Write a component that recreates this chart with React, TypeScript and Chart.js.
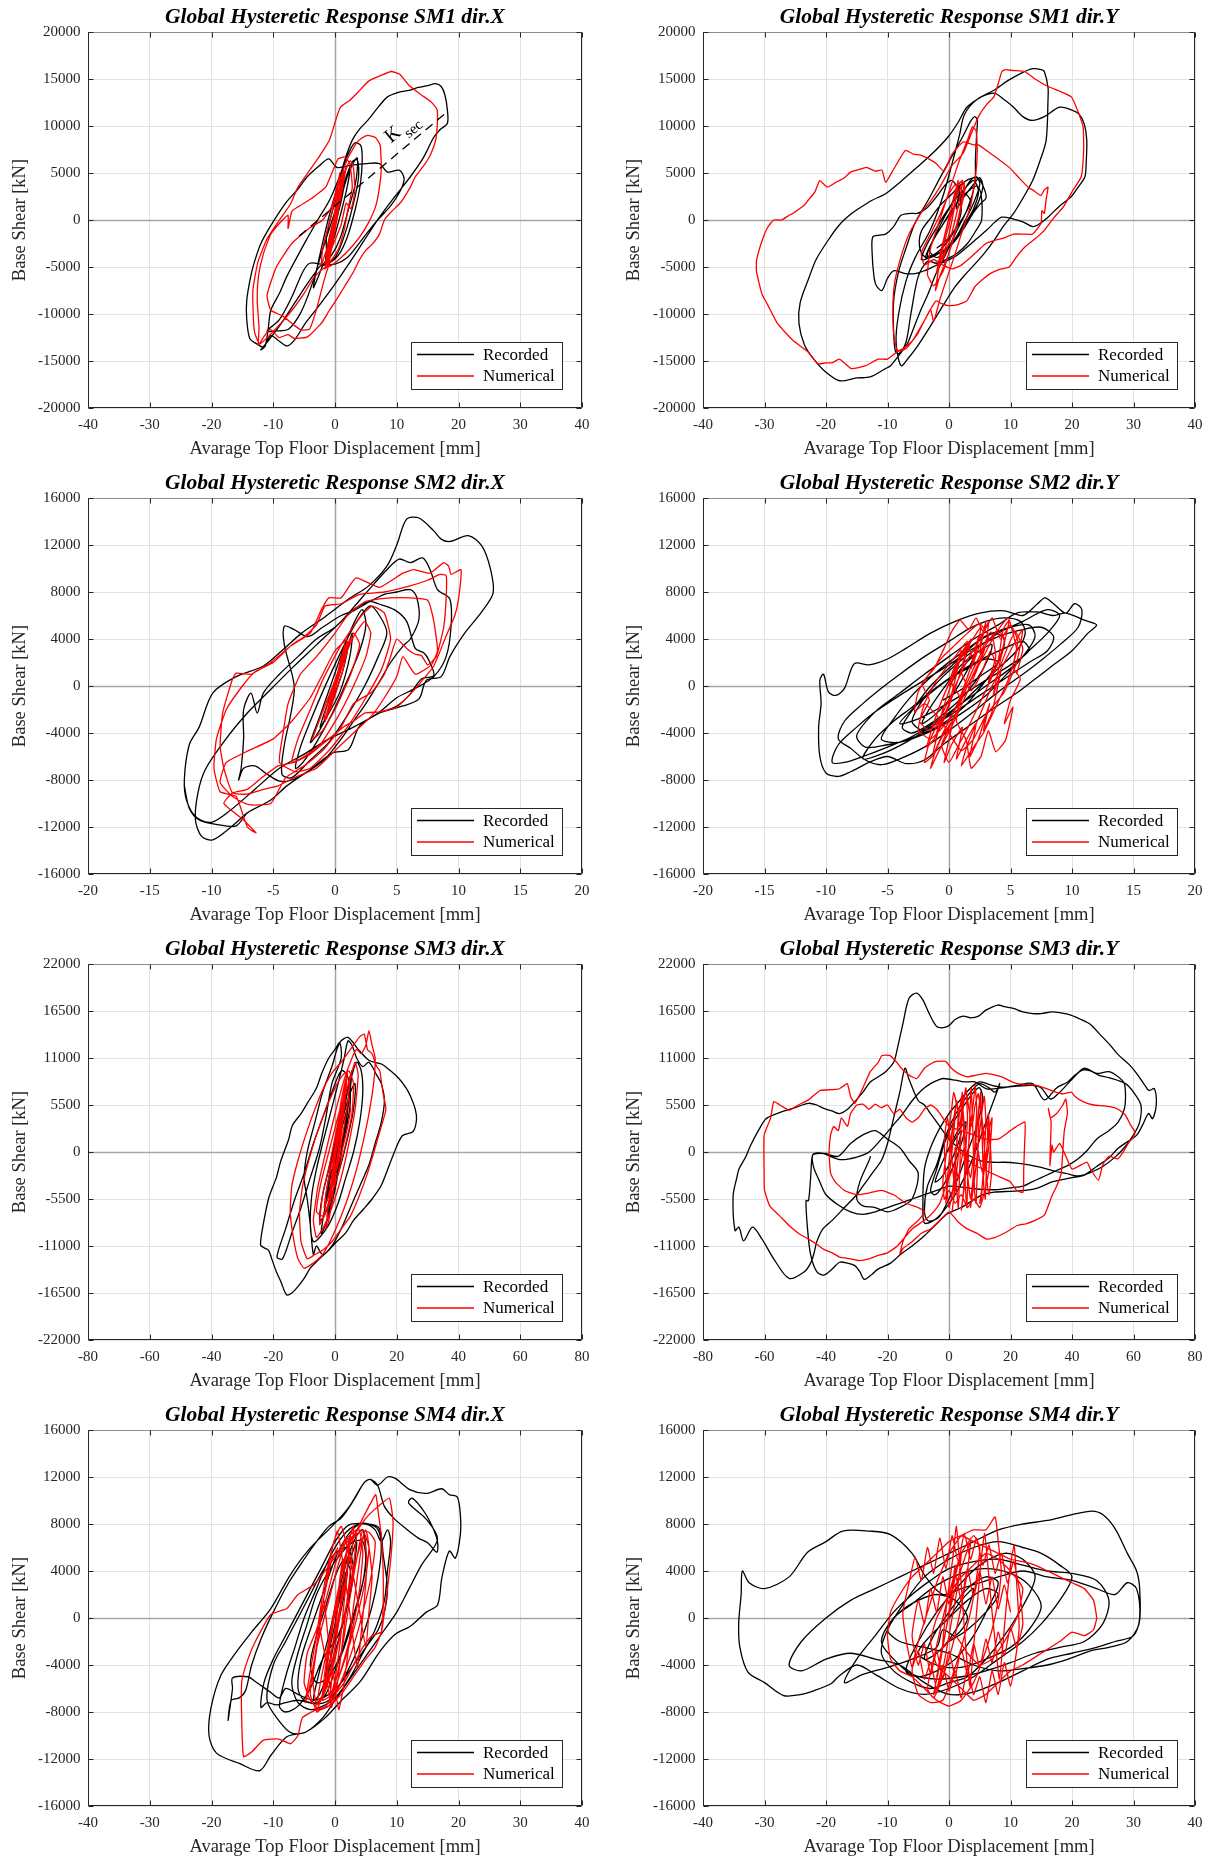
import React, { useEffect, useRef } from "react";
import { Chart, registerables } from "chart.js";
Chart.register(...registerables);

type Pt = [number, number];

// ---------- tick labels ----------
const X_TICKS_40 = [-40, -30, -20, -10, 0, 10, 20, 30, 40];
const X_TICKS_20 = [-20, -15, -10, -5, 0, 5, 10, 15, 20];
const X_TICKS_80 = [-80, -60, -40, -20, 0, 20, 40, 60, 80];
const Y_TICKS_20000 = [-20000, -15000, -10000, -5000, 0, 5000, 10000, 15000, 20000];
const Y_TICKS_16000 = [-16000, -12000, -8000, -4000, 0, 4000, 8000, 12000, 16000];
const Y_TICKS_22000 = [-22000, -16500, -11000, -5500, 0, 5500, 11000, 16500, 22000];

const LEGEND_LABELS = ["Recorded", "Numerical"];
const X_LABEL = "Avarage Top Floor Displacement [mm]";
const Y_LABEL = "Base Shear [kN]";

// ---------- series (displacement mm, base shear kN) ----------
const SM1X_REC: Pt[] = [
  [0,0],[0.8,1800],[1.6,3800],[2.4,5400],[2,3600],[0.9,600],[-0.4,-2400],[-1.5,-4200],[-1,-2200],[0.2,800],[1.4,3600],[2.6,5600],[3.6,6600],[3.4,4200],[2.2,1200],[0.8,-2000],[-0.6,-3800],[-1.8,-4600],[-2.8,-6200],[-3.5,-7200],[-3,-5400],[-2,-2400],[-0.8,800],[0.6,4000],[2,6800],[3.2,8200],[4.2,7900],[4.4,6200],[4.1,3800],[3.3,1200],[2,-1800],[0.5,-3800],[-1.2,-4700],[-2.4,-4900],[-3.2,-5600],[-4.5,-6800],[-6.5,-8800],[-8.5,-10800],[-10.5,-12600],[-12,-13800],[-11.3,-13400],[-10.8,-11500],[-10.4,-9600],[-9,-7800],[-7.8,-6000],[-6.2,-4000],[-4.7,-2200],[-2.8,0],[-0.9,2100],[0.9,4900],[1.8,6800],[2.8,8500],[4,9700],[5.3,10600],[7,12000],[8.5,13100],[10.4,13600],[12,13800],[13.5,14100],[15,14300],[16.3,14500],[17.2,14200],[17.8,13300],[18.2,11700],[18.2,10300],[17,9600],[16,8800],[15,7500],[14.1,6400],[12.2,4600],[9.7,2500],[7.2,300],[4.7,-2200],[2.2,-4700],[-0.3,-7100],[-2.8,-9300],[-4.7,-10900],[-6.6,-12800],[-7.8,-13400],[-9,-12900],[-10.4,-12300],[-11.6,-13500],[-12.6,-13200],[-13.8,-12600],[-14.3,-10500],[-14.3,-8600],[-13.8,-6500],[-13.2,-4800],[-12,-2500],[-10.4,-600],[-8,1800],[-6,3300],[-4.5,4600],[-2.5,5800],[-1,6500],[0.3,5600],[2.5,5800],[5,6000],[7.2,6000],[8.5,5100],[10.4,5300],[11.2,4400],[10.5,3000],[9,1500],[6.5,-300],[4,-2400],[2,-4000],[0,-4700],[-2,-4700],[-4.1,-4600],[-5.2,-5500],[-7,-8200],[-9,-10600],[-11,-11800],[-9.5,-11800],[-7.5,-11600],[-5.5,-9800],[-3.8,-7000],[-2.5,-4200],[-1.2,-1500],[0.3,1500],[1.5,4000],[2.8,6200],[3.6,6400],[3.8,4500],[3,1800],[1.6,-1500],[0.2,-3800],[-1,-4400],[-1.4,-2000],[-0.4,1000],[0.8,3500],[1.5,4200],[1,2000],[0,-500]
];
const SM1X_NUM: Pt[] = [
  [0,0],[0.8,2500],[1.2,4500],[0.6,2000],[-0.5,-2500],[-1.2,-4200],[-0.6,-1500],[0.4,1800],[1.5,5000],[1.8,5600],[1,2600],[-0.2,-1800],[-1,-4500],[-1.6,-5200],[-1.2,-3000],[0,500],[1,3500],[2,5800],[2.5,6300],[3,5500],[3.2,3000],[2.6,1200],[1.8,1800],[1,-500],[-0.4,-2800],[-1.4,-4800],[-0.8,-2500],[0.5,2000],[1.2,4800],[0.8,3000],[-0.3,-1000],[-1.8,-4000],[-2.2,-4800],[-2,-3000],[-0.8,0],[0.5,3500],[2,6500],[3.5,8200],[4.3,8700],[5.3,9000],[6.5,8800],[7.3,8000],[7.5,5600],[7.2,3500],[6.6,1500],[5.5,-200],[4,-1800],[2.5,-3000],[1,-4000],[-0.5,-4800],[-2,-5200],[-3.5,-6200],[-5,-7800],[-6.5,-9200],[-8.5,-10800],[-10.5,-12200],[-12.2,-13200],[-13,-12000],[-13.2,-10700],[-13.3,-7500],[-12.5,-4500],[-11,-2000],[-9,0],[-7.2,1700],[-6,3500],[-4.1,5300],[-2.5,6800],[-0.9,8500],[0.3,11000],[0.9,12000],[2.5,12800],[4,13800],[5.5,14800],[7.5,15400],[9.1,15800],[10.5,15500],[12,14300],[14,13300],[15.5,12600],[16.5,11800],[16.6,10600],[16.3,8500],[15.5,7000],[14.4,5800],[13,4600],[12.2,3500],[11,2200],[10.4,1700],[9,800],[8,0],[7.2,-1500],[6,-2600],[5,-3200],[4,-4200],[3,-5500],[1.8,-6800],[0.5,-8200],[-0.9,-9600],[-2,-10800],[-2.8,-11400],[-4,-12200],[-4.7,-12500],[-6.6,-12600],[-7.6,-12200],[-9.1,-12500],[-10.5,-11600],[-11.4,-12300],[-12.4,-13300],[-12.3,-11500],[-12.6,-8500],[-12.4,-6000],[-11.6,-3600],[-10.4,-1500],[-8.5,0],[-7.6,500],[-7.6,-900],[-7,900],[-6,1400],[-4,2200],[-2.8,2800],[-1.5,3500],[-0.5,5000],[0.5,6500],[1.6,6700],[2.4,6000],[2.8,3500],[2.2,1500],[1.5,-1000],[0.5,-3200],[-0.8,-4500],[-1.8,-6500],[-3,-9500],[-4.1,-11600],[-5.5,-11700],[-6.6,-11200],[-8.5,-10200],[-10.4,-9600],[-11,-8000],[-9.5,-5000],[-7,-2500],[-4,-800],[-2,0],[-0.5,1500],[0.5,4000],[0.8,5000],[0.3,2500],[-0.6,-1500],[-1.4,-3500],[-0.7,-1200],[0.3,1500]
];
const SM1X_NUM_CORE: Pt[] = [
  [1.2,4500],[0.6,1500],[-0.2,-1500],[-0.8,-4000],[-1.2,-5000],[-0.6,-2500],[0.2,1000],[0.9,4000],[1.4,5200],[0.9,2500],[0,-800],[-0.7,-3500],[-1.3,-4500],[-0.5,-1000],[0.4,2500],[1,4000],[0.4,1200],[-0.4,-2000],[-1,-3200],[-0.2,0],[0.6,3000]
];
const KSEC_LINE: Pt[] = [[-5.8, -1700], [17.9, 11350]];

const SM1Y_REC: Pt[] = [
  [0,0],[1,1500],[2.5,3200],[3.5,4200],[4.5,4600],[5,3800],[4,1800],[2.5,-200],[1,-2000],[-0.8,-3200],[-2.5,-3800],[-4,-3900],[-4.8,-2800],[-4.5,-1200],[-3,200],[-1.5,1500],[0.5,2800],[2,3800],[3.5,4400],[4.8,4400],[5.8,3200],[6,2300],[5.2,1800],[4,800],[2.5,-800],[1,-2200],[-0.5,-3200],[-2,-3600],[-3.5,-3800],[-2.8,-2400],[-1.5,-1000],[0,600],[1.5,2000],[3,3000],[4.5,3600],[5.2,2800],[5.3,0],[4.5,-1000],[3,-2500],[1.2,-3600],[-0.5,-4200],[-2,-4600],[-3.5,-4400],[-5,-6000],[-6.2,-10000],[-7,-13000],[-8.1,-14200],[-8.7,-14000],[-9,-12000],[-9,-8600],[-8.2,-5500],[-7.1,-3200],[-5.5,-300],[-3.4,2100],[-1.2,4800],[1,7400],[2.5,9200],[3.5,10500],[4.2,11000],[4.6,10600],[4.5,9200],[4.3,6500],[4.2,3900],[3,1200],[1,-1500],[-0.5,-3600],[-2.1,-5700],[-3.5,-8000],[-4.6,-9600],[-5.8,-11600],[-6.8,-13200],[-7.8,-14100],[-9.5,-15500],[-10.3,-15800],[-12.8,-16700],[-15,-16800],[-17.8,-17100],[-20,-16200],[-22,-14800],[-23.5,-13300],[-24.4,-11000],[-24.2,-8800],[-22.8,-6200],[-21.6,-4200],[-19.5,-2000],[-17.8,-500],[-16,600],[-14.7,1200],[-12.5,2100],[-10.3,2800],[-8,4000],[-5.2,5600],[-2.5,7200],[-0.2,8800],[1.5,10400],[2.9,12000],[5,13000],[7.3,13800],[9.5,14800],[11.7,15600],[13.6,16100],[15,16000],[15.5,15800],[16.1,14100],[16.1,12800],[15.8,8500],[14.8,6300],[13.6,4200],[12,2300],[10.5,700],[8.8,-700],[7.3,-2200],[5.8,-3500],[4.2,-4700],[2.5,-5900],[1,-7100],[-0.5,-8600],[-2.1,-10300],[-3.7,-12000],[-5.2,-13500],[-6.5,-14600],[-7.8,-15500],[-8.6,-13000],[-8.2,-10000],[-7,-6500],[-5.5,-4000],[-3,-1000],[-1,2500],[0.5,6000],[1.7,9000],[2.5,11200],[4.5,12800],[7.3,13500],[9,12800],[10.5,12000],[12,11000],[13.6,10600],[15.5,11000],[18,12000],[20,11700],[21.1,11300],[22,10200],[22.4,8500],[22.3,6000],[22.1,4600],[21,3500],[19.9,2500],[18,1500],[16.1,300],[14.5,-500],[13.6,-700],[12,-200],[10.5,100],[8.6,300],[7.5,-200],[6.1,-1100],[4.5,-2000],[2.9,-2900],[1.2,-3800],[-0.2,-4300],[-2,-4800],[-4,-5400],[-5.5,-5700],[-7.1,-5700],[-9,-5400],[-10,-6200],[-10.9,-7500],[-11.8,-7000],[-12.2,-6000],[-12.5,-3500],[-12.4,-1800],[-11.3,-1600],[-10.3,-1500],[-9,-700],[-7.8,500],[-6.2,700],[-5.2,700],[-4.2,1000],[-3.4,1400],[-2,2500],[-0.5,3800],[0.5,4200],[1.5,3200],[2,1000],[1,-1000],[-0.5,-2500],[-2,-3500],[-3.8,-4000],[-2.5,-2000],[-1,0],[0.5,1800],[1.8,3500],[1.2,1200]
];
const SM1Y_REC_CORE: Pt[] = [
  [2.5,2500],[4,3800],[5,4500],[5.5,3500],[4.5,1500],[3,0],[1.5,-1500],[0,-2800],[-1.5,-3500],[-3,-4000],[-4.5,-4200],[-3.5,-2500],[-2,-800],[-0.5,800],[1,2200],[2.5,3300],[4,4200],[4.8,3000],[4,1200],[2.5,-500],[1,-2000],[-0.5,-3200],[-2,-4000],[-3.2,-3200],[-2,-1500],[-0.5,0],[1,1500],[2.5,2800],[3.5,2000],[2.5,500],[1,-1000],[-0.5,-2200],[-2,-3000]
];
const SM1Y_NUM: Pt[] = [
  [0,0],[0.8,2500],[1.5,4200],[1,1800],[0,-1500],[-1,-3800],[-1.8,-4800],[-1,-2500],[0.3,1000],[1.5,3800],[2.2,4200],[1.5,1500],[0.2,-2000],[-1.2,-4500],[-2,-5600],[-1.2,-3000],[0.5,1500],[1.8,4000],[2.6,3500],[1.5,0],[0,-3500],[-1.5,-6000],[-2.2,-7500],[-1.5,-4500],[0,-500],[1.5,3000],[2.5,4000],[1.6,500],[0.2,-3000],[-1,-5500],[-2.5,-7000],[-3.5,-5800],[-3,-3000],[-1.5,0],[0,3000],[1.5,6000],[3,8500],[3.8,9900],[4.4,9500],[4.6,7500],[4.3,4500],[3.5,1500],[2,-1500],[0.8,-4000],[-0.5,-6500],[-1.5,-8500],[-2.5,-10800],[-3,-9500],[-4,-10700],[-5.9,-12800],[-7.5,-13700],[-8.4,-13900],[-9,-12100],[-9.1,-8600],[-8.8,-6500],[-7.8,-3900],[-6.5,-1500],[-4.6,700],[-3,2000],[-1.5,3500],[0.5,5800],[2.3,7100],[3.5,9000],[4.8,11000],[6,12200],[7.3,13100],[8,14500],[8.6,15800],[9.2,16000],[10.5,15900],[12.3,15800],[14,15000],[16.1,14200],[18,13700],[19.9,13100],[21,11500],[21.8,9900],[21.9,7500],[21.5,4600],[20,3000],[18.6,1400],[17,200],[15.5,-1100],[14,-2000],[12.3,-2900],[11,-3900],[9.8,-5000],[8,-5300],[6.7,-5700],[5.5,-6300],[4.2,-7100],[2.9,-8600],[1.5,-9000],[-0.2,-9100],[-1.2,-8900],[-2.1,-8600],[-3,-9500],[-4,-10700],[-5,-12000],[-5.9,-12800],[-7,-13700],[-8.4,-14000],[-10,-14800],[-11.5,-14800],[-13.5,-15500],[-15.9,-15800],[-17.8,-14800],[-19,-15200],[-20,-15200],[-21.3,-15300],[-23,-14000],[-25.4,-12800],[-27.9,-11000],[-29.5,-9000],[-30.4,-7900],[-31.3,-5500],[-31.3,-4300],[-30.4,-2200],[-29.5,-800],[-28.5,0],[-27.2,0],[-26,500],[-25.4,700],[-23.5,1600],[-22.9,2100],[-21.8,3000],[-21,4200],[-19.8,3500],[-18.4,4000],[-17,4500],[-16,5100],[-14,5500],[-13.4,5600],[-12,5200],[-10.9,5300],[-10.3,4000],[-9,5400],[-7.1,7400],[-5.8,7000],[-4.6,6900],[-3,6400],[-2.1,6000],[-0.8,5200],[0.5,7000],[2.3,8300],[4,8000],[4.8,8000],[6.7,7100],[8,6500],[9.8,5600],[11.5,4400],[13,3400],[13.6,3200],[14.9,2600],[15.5,3200],[16.1,3500],[15.8,2200],[15.5,700],[15.1,1000],[15,-300],[14.5,-800],[13.6,-1500],[12,-1500],[10.5,-1500],[9,-1900],[7.3,-2200],[6,-2500],[4.8,-3200],[3.5,-4000],[2,-4800],[0.5,-5200],[-1,-4800],[-2.5,-4200],[-4,-4800],[-4.5,-3500],[-3,-1500],[-1.5,500],[0,2800],[1,3800]
];

const SM2X_REC: Pt[] = [
  [0,0],[0.5,1500],[1,3000],[0.6,1200],[-0.2,-1200],[-0.8,-2800],[-1.2,-3500],[-0.6,-1500],[0.3,1000],[0.9,2800],[1.4,4500],[1.2,2500],[0.4,-500],[-0.6,-2500],[-1.5,-4200],[-2,-4800],[-1.2,-2500],[-0.2,500],[0.8,3500],[1.6,5500],[2.2,6500],[2.5,5200],[2,3000],[1,500],[-0.3,-2500],[-1.5,-4800],[-2.6,-6500],[-3.2,-7000],[-2.8,-5200],[-2,-3000],[-1,-500],[0.3,2500],[1.5,5000],[2.8,6800],[3.6,6000],[4.2,4500],[3.5,2500],[2.4,0],[1,-2500],[-0.5,-4800],[-2,-6300],[-3.5,-7800],[-4.3,-7500],[-4.1,-5000],[-3.6,-2500],[-3.3,0],[-4.1,3500],[-4.1,5100],[-3.3,4800],[-2.2,4200],[-1,5000],[0.5,6000],[1.5,6400],[2.5,7000],[4,7800],[5,8000],[6.1,8200],[6.6,7600],[6.8,5700],[6.1,4000],[5.5,3400],[4.5,2000],[3.5,200],[2.5,-1500],[1.5,-3000],[0.5,-4500],[-0.8,-6200],[-2.2,-7300],[-3.5,-8000],[-4.5,-8100],[-5.5,-7500],[-6.5,-6800],[-7.4,-7000],[-7.8,-8000],[-7.6,-7000],[-7.4,-4500],[-7.4,-2000],[-6.8,-600],[-6.3,-2300],[-5.8,-600],[-4.5,1000],[-3,2500],[-1.5,4000],[0,5000],[1.5,6500],[2.8,7200],[3.5,7000],[4.8,6500],[5.8,5500],[6.5,3200],[7.2,2800],[7.6,2200],[8,900],[7,600],[6,-800],[5,-1700],[3.6,-2300],[2,-3400],[1.1,-5400],[-0.2,-5700],[-2,-7100],[-3.9,-8500],[-5.2,-9700],[-7.1,-10800],[-8.3,-11900],[-9.9,-13100],[-10.8,-12800],[-11.3,-11400],[-11.1,-9100],[-10.5,-7100],[-8.9,-4600],[-7.1,-2300],[-5.5,-600],[-3.5,1500],[-1.5,3500],[0.5,5500],[2,7300],[3,8500],[4.2,9900],[5.2,10800],[6.1,10500],[7.1,10900],[7.7,9900],[8.3,8200],[9.3,7400],[9.4,5100],[9,2500],[8,800],[6.5,-200],[5,-1000],[3.5,-2300],[1.5,-3500],[-0.5,-4500],[-2.5,-5800],[-4.5,-7000],[-6.5,-8800],[-8.5,-10600],[-10,-11600],[-11.2,-11200],[-12,-9800],[-12.2,-8000],[-11.8,-5000],[-11,-3500],[-9.9,-600],[-8,800],[-5.8,1700],[-4.2,3100],[-2.7,4500],[-0.8,5900],[1.1,7400],[2.7,8500],[4.2,10200],[5,12000],[5.8,14200],[6.8,14300],[8,13200],[8.6,12500],[9.3,12300],[10.8,12800],[11.9,11900],[12.6,9900],[12.8,7900],[11.8,6200],[10.5,4500],[9.3,2500],[8.6,800],[7.4,500],[6.8,-1100],[5.5,-1700],[3.6,-2300],[2,-3400],[1.1,-5400],[-0.2,-5700],[-2,-7100],[-3.9,-8500],[-5.2,-9700],[-7.1,-10800],[-8,-11900],[-9.5,-11800],[-11,-11400],[-11.8,-10400],[-12.2,-8500]
];
const SM2X_NUM: Pt[] = [
  [0,0],[0.4,2000],[0.8,3500],[0.3,1000],[-0.4,-1500],[-0.8,-3000],[-0.3,-800],[0.5,2000],[1,3800],[0.6,1800],[-0.2,-1000],[-0.7,-2800],[-0.2,-500],[0.7,2500],[1.2,4000],[0.6,1200],[-0.4,-2000],[-0.9,-2800],[-0.3,-400],[0.6,2200],[1.5,4500],[2,3500],[1.2,800],[0,-2000],[-1,-3800],[-1.8,-4500],[-1,-2200],[0.2,1000],[1.5,4200],[2.4,5500],[2.9,4500],[2.5,2500],[1.5,0],[0.3,-2500],[-1.2,-5000],[-2.5,-6000],[-3.5,-6500],[-3,-4500],[-2,-2000],[-1,500],[0.5,3500],[2,5800],[3,6800],[4,6200],[4.5,4000],[3.8,1500],[2.5,-1000],[1,-3500],[-0.5,-5500],[-2,-7000],[-3.2,-7300],[-4.5,-6500],[-4.2,-4000],[-3.8,-1500],[-2.8,1000],[-1.5,2500],[0,4500],[1,6000],[2.5,7200],[4.5,7500],[6,7500],[7.5,7300],[8,5500],[8.3,3000],[7.8,1800],[6.5,1000],[5.5,2500],[5,800],[4,-1000],[3,-2500],[1.5,-4000],[0,-5500],[-1.5,-7000],[-3.3,-7800],[-4.6,-8500],[-5.8,-8800],[-7.1,-9200],[-8.3,-9100],[-9,-7000],[-9.3,-5100],[-9.1,-2300],[-8.3,600],[-8,1100],[-6.8,1000],[-5.2,2000],[-3.6,3400],[-2,4500],[-1.1,6500],[-0.5,7500],[0.5,7500],[1.7,9200],[3.6,8400],[5.5,9600],[6.4,9900],[7.7,9600],[8.8,10500],[9.2,10200],[9.4,9500],[10.2,9900],[10,7400],[9.7,6000],[8.9,4000],[8,1700],[7,400],[6,-800],[5,-1800],[3.6,-2200],[2.4,-2300],[1.5,-3000],[0.8,-3400],[-0.5,-4500],[-2,-5800],[-3.3,-6500],[-4.6,-6800],[-5.8,-7700],[-7.1,-8800],[-8.3,-9100],[-9,-10000],[-7.4,-11400],[-6.4,-12500],[-7.1,-12000],[-8,-9400],[-9.3,-9000],[-9.8,-7000],[-9.6,-4500],[-8.8,-2000],[-7.5,0],[-6.5,1200],[-5,2000],[-3.5,3500],[-2.5,4200],[-1.5,5200],[-0.8,6800],[0.5,7000],[2,7800],[4,8000],[6,8500],[7.5,9000],[8.5,9500],[9,9400],[9,7500],[8.8,5000],[8.2,2500],[7.5,1800],[7,2600],[6.5,2700],[5.8,3200],[5,4000],[4.5,2500],[4,1000],[3,-500],[1.5,-1500],[0.5,-3500],[-1,-5500],[-2.5,-6800],[-4,-7800],[-5.2,-10000],[-7,-10100],[-8.3,-9400],[-9.3,-8200],[-8.8,-6500],[-7,-5500],[-5,-4500],[-3.5,-3000],[-2,-1000],[-1,1000],[0,3000],[1,4000]
];

const SM2Y_REC: Pt[] = [
  [0,0],[1,1500],[2,2500],[1.2,800],[0,-1200],[-1.2,-2500],[-2.2,-3200],[-1.5,-1800],[-0.3,0],[1,1800],[2.5,3000],[3.5,3500],[2.8,1500],[1.5,-500],[0,-2000],[-1.5,-3200],[-3,-4000],[-3.8,-3500],[-2.8,-1800],[-1.5,0],[0.5,2000],[2,3500],[3.5,4500],[4.5,4000],[4,2000],[2.8,200],[1.2,-1800],[-0.5,-3200],[-2.5,-4200],[-4.2,-4800],[-5.5,-4500],[-4.5,-2800],[-3,-800],[-1,1200],[1,2800],[3,4200],[5,5000],[6.5,5200],[7,4200],[6,2500],[4.5,800],[3,-800],[1.2,-2200],[-0.8,-3500],[-3,-4500],[-5,-5000],[-6.8,-5200],[-7.5,-4200],[-6,-2200],[-4,-600],[-2,1000],[0,2500],[2,4000],[4,5200],[5.5,6200],[7.2,6300],[8.4,6000],[9.5,6200],[11,5600],[12,5200],[11.3,4500],[10,3000],[8.5,1800],[7,600],[5.5,-600],[3.5,-2000],[1.5,-3500],[-0.5,-5000],[-2,-6300],[-3.5,-6600],[-5,-6000],[-6.5,-6500],[-8,-7300],[-9,-7700],[-10,-7400],[-10.5,-6000],[-10.6,-3500],[-10.4,-1500],[-10.5,500],[-10.2,1000],[-9.8,-500],[-9.2,-800],[-8.5,-200],[-7.7,1900],[-6.5,1800],[-5,2300],[-3.5,3200],[-1.5,4500],[0.5,5500],[2.5,6200],[4.5,6400],[6,6000],[7.2,7000],[7.8,7500],[8.5,7000],[9.5,6200],[10.2,7000],[10.8,6500],[10.5,5000],[9,3500],[7.5,2200],[6,1000],[4,-500],[2,-2200],[0,-3800],[-2,-5200],[-4,-6200],[-5.5,-6700],[-6.8,-6300],[-8,-5300],[-9,-4500],[-8.5,-3000],[-7,-1500],[-5.5,-200],[-4,1000],[-2,2500],[0,3800],[1.5,4800],[3,5500],[4.5,5800],[5.8,5500],[6.2,4500],[5.5,3000],[4,1500],[2.5,0],[1,-1500],[-0.5,-2800],[-2,-3800],[-3,-3000],[-2,-1000],[-0.5,800],[1,2200]
];
const SM2Y_REC_CORE: Pt[] = [
  [2,3000],[4,4500],[6,5500],[8,6500],[9,6000],[8,4500],[6.5,3000],[5,1500],[3,0],[1,-1500],[-1,-3000],[-3,-4300],[-5,-5200],[-7,-6000],[-8.5,-6500],[-9.5,-6500],[-9,-5000],[-7.5,-3500],[-6,-2200],[-4,-800],[-2,500],[0,1800],[2,3200],[4,4200],[6,4800],[7.5,5000],[8.5,4200],[8,3000],[6.5,2000],[4.5,600],[2.5,-800],[0.5,-2200],[-1.5,-3500],[-3.5,-4800],[-5.5,-5800],[-7,-6200],[-6,-4500],[-4.5,-3000],[-3,-1800],[-1.5,-500],[0.5,1000],[2.5,2200],[4.5,3200],[6,3800],[6.5,3000],[5,1800],[3,500],[1,-800],[-1,-2000],[-2.5,-2800],[-4,-3200],[-3,-2000],[-1.5,-600],[0,600],[1.5,1500],[3,2300],[4,2000],[2.5,800],[1,-300],[-0.5,-1200]
];
const SM2Y_NUM: Pt[] = [
  [0,0],[0.5,1500],[1,3000],[0.6,1000],[0,-1500],[-0.6,-3000],[-1,-4000],[-0.5,-2000],[0.3,500],[1,2500],[1.8,4000],[1.2,2000],[0.4,-500],[-0.4,-2800],[-1.2,-4500],[-1.8,-5200],[-1.2,-3000],[-0.3,-500],[0.8,2000],[1.8,3800],[2.6,5000],[2.2,3000],[1.4,500],[0.5,-2000],[-0.5,-4000],[-1.2,-5800],[-2,-6500],[-1.5,-4500],[-0.6,-2500],[0.5,0],[1.5,2200],[2.5,4000],[3.2,5400],[3,3500],[2.2,1200],[1.2,-1200],[0.2,-3500],[-0.8,-5500],[-1.5,-7000],[-1,-5200],[0,-3000],[1,-800],[2,1500],[3,3500],[4,4800],[4.5,3800],[3.8,1500],[2.8,-800],[1.8,-3000],[0.8,-5000],[0,-6500],[-0.6,-5000],[0.5,-2500],[1.5,0],[2.8,2500],[3.8,4500],[4.8,5800],[5.2,4500],[5.5,3000],[4.8,500],[3.8,-1800],[2.8,-4000],[2,-5200],[1,-6800],[1.5,-5000],[2.5,-2500],[3.5,0],[4.5,2000],[5.5,4000],[6,4800],[5.5,2000],[4.5,-500],[3,-2500],[2,-4500],[1,-5500],[0,-4000],[-1,-2500],[-2,-1500],[-2.8,-2200],[-2.5,-500],[-1.5,1200],[-0.5,2500],[0.5,3500],[1.5,4500],[2.5,5300],[3.2,4200],[2.5,2200],[1.5,0],[0.5,-2000],[-0.5,-3500],[-1.5,-4500],[-2.5,-3800],[-2,-1500],[-1,500],[0.5,2500],[1.5,3800]
];
const SM2Y_NUM_CORE: Pt[] = [
  [2,2000],[2.4,4200],[1.8,1500],[2.6,3800],[3,5500],[2.5,2800],[3.4,4600],[3.8,2500],[3.2,300],[4,2200],[4.4,4800],[4.9,5600],[4.3,2800],[3.6,-800],[4.2,1200],[3.5,-2200],[2.8,-3800],[3.3,-1500],[2.4,-4500],[1.7,-6000],[2.2,-3200],[1.3,-4800],[0.6,-6200],[1.1,-3500],[0.2,-5000],[-0.4,-6500],[0.3,-3000],[-0.5,-4200],[-1.3,-5800],[-0.7,-2800],[-1.6,-3800],[-2.4,-3000],[-1.6,-1200],[-2.2,200],[-1.2,1500],[-0.4,3200],[0.2,4600],[0.9,5600],[1.6,4800],[2.2,5800],[2.8,4600],[3.5,5800],[4.2,4000],[5,5200],[5.6,3800],[5.2,1600],[5.8,600],[5,-1200],[4.5,-3200],[5.2,-1800],[4.6,-4600],[3.8,-5600],[3.2,-3800],[2.6,-6000],[1.8,-7000],[1.4,-4600],[0.6,-3000],[0.9,-1000],[0.1,500],[0.8,2400],[1.5,3600],[1,1200],[1.8,-400],[2.6,1000],[3.4,3000],[4,1400],[4.8,3400],[5.4,4600],[6,3200],[5.5,1000]
];

const SM3X_REC: Pt[] = [
  [0,0],[2,2500],[4,5000],[3,2000],[1,-1500],[-1.5,-4000],[-3,-5500],[-2,-3000],[0,500],[2.5,4000],[5,7000],[6.5,8000],[6,5000],[4,1500],[1.5,-2000],[-1,-5000],[-3.5,-7500],[-5,-8000],[-4,-5000],[-2,-2000],[0.5,2000],[3,6000],[5.5,9000],[7,10500],[8.5,9500],[9,7000],[8,3500],[6,0],[3.5,-3000],[1,-6000],[-2,-8500],[-5,-10000],[-7,-10500],[-8,-8500],[-7.5,-5000],[-6,-2000],[-4,1000],[-1.5,4500],[1,8000],[3,11000],[4.2,13000],[5.5,12500],[7,11000],[9,10000],[11,10500],[13.5,9000],[15,8000],[16,6000],[15,3500],[13,1000],[11,-1500],[8,-4000],[5,-6500],[2,-9000],[-1,-11000],[-4,-12000],[-6,-11000],[-7,-12000],[-8,-8500],[-9,-5500],[-10,-3000],[-9,0],[-6.5,3500],[-4,7000],[-1,10000],[1.5,12800],[4.2,13400],[7.3,12100],[11.1,10700],[15,10300],[18,9500],[20.7,8600],[23,7500],[24.5,6500],[26,5000],[26.4,3800],[25.3,2400],[21.8,1900],[18.8,-400],[15,-3900],[12,-5500],[9.2,-6700],[6,-8000],[3.4,-9500],[0.5,-10500],[-2.3,-11600],[-5,-12500],[-8,-13600],[-10,-14800],[-11.9,-15700],[-14,-16500],[-15.7,-16700],[-17.5,-15200],[-19,-14000],[-20.5,-12500],[-21.5,-11500],[-23,-11200],[-24.1,-10900],[-23.5,-9000],[-21.4,-5300],[-19,-3000],[-17.6,-1100],[-15,1500],[-13.8,3100],[-11,4500],[-8.8,5800],[-6,7500],[-4.2,9300],[-2,11000],[0,12000],[1.5,12800],[2,11000],[-1,8000],[-3,4000],[-5,500],[-8,-3000],[-11,-6500],[-14,-9500],[-17,-12500],[-18.8,-12300],[-16,-9000],[-13,-5500],[-10,-2500],[-7,1000],[-4,4000],[-1,7000],[2,9500],[4,9000],[5,6000],[3.5,2500],[1,-1500],[-1.5,-4500],[-3,-6000],[-1.5,-3000],[0.5,0]
];
const SM3X_REC_CORE: Pt[] = [
  [2,3000],[3.5,6000],[5,8500],[4,5000],[2.5,1500],[1,-2000],[-1,-5500],[-2.5,-7500],[-1,-4000],[0.5,-500],[2,3000],[4,7000],[5.5,9500],[4.5,6000],[3,2000],[1,-2500],[-1,-6000],[-3,-8500],[-4.5,-9500],[-3,-6000],[-1,-2000]
];
const SM3X_NUM: Pt[] = [
  [0,0],[1.5,3000],[3,5500],[2,2000],[0,-2000],[-2,-5000],[-3.5,-6500],[-2,-3000],[0.5,1500],[3,6000],[5,9000],[4,5500],[2,1000],[-0.5,-3500],[-3,-7000],[-5,-8500],[-4,-5000],[-1.5,-1000],[1,3500],[4,7500],[6.5,10500],[7.5,9000],[6.5,5000],[4.5,1000],[2,-3000],[-1,-6500],[-4,-9000],[-6,-10000],[-7,-8000],[-5.5,-4000],[-3,0],[0,4500],[3,8500],[5.5,11000],[7,12000],[8.5,11500],[10,12500],[11,14200],[12,12500],[13,11000],[12.5,8000],[11,4500],[9,1000],[7,-2000],[4.5,-5000],[2,-7500],[-1,-10000],[-4,-12000],[-7,-13000],[-10,-13600],[-12,-12500],[-13.5,-10000],[-14.5,-7000],[-14,-4000],[-12,-1000],[-9,2500],[-6,5500],[-3,8000],[-0.5,9500],[2,10500],[4,11500],[6,12500],[8,13500],[9.5,13800],[10.5,12000],[12,11500],[13.5,10000],[14.5,9500],[15.5,7000],[16.5,5000],[15,3000],[13,500],[10.5,-2500],[8,-5000],[5,-7500],[2,-9000],[-1,-10500],[-4,-11500],[-6.5,-12000],[-9,-12500],[-11,-10500],[-11.5,-7000],[-10.5,-4000],[-8.5,-1000],[-6,2000],[-3,5000],[0,7500],[2.5,9000],[4.5,9500],[6,8000],[5.5,4500],[3.5,1000],[1,-2500],[-1.5,-5500],[-4,-7500],[-6,-7000],[-4.5,-3500],[-2,0],[0.5,3500],[2.5,6000],[4,7000],[5,5000],[3.5,2000],[1,-1500],[-1,-3500],[0,-1000],[1.5,2500],[3,4500]
];
const SM3X_NUM_CORE: Pt[] = [
  [2,4500],[0.5,1000],[-1,-3000],[-2,-6000],[-1,-2500],[0.5,2000],[2,6000],[3.5,8500],[2.5,4500],[1,0],[-0.5,-4500],[-2,-8000],[-3,-9000],[-1.5,-4500],[0,0],[1.5,4000],[3,7000],[4,9500],[3,5000]
];

const SM3Y_REC: Pt[] = [
  [0,0],[2,1500],[4,2500],[2.5,500],[0,-1500],[-2.5,-3000],[-4.5,-3500],[-2.5,-1500],[0,500],[3,2500],[5.5,3500],[4,1000],[1,-2000],[-2,-4000],[-4.5,-5000],[-6,-4500],[-4,-2000],[-1.5,1000],[1.5,3500],[5,5500],[8,7000],[10,7500],[11,6000],[9,3000],[6,0],[3,-3000],[0,-5500],[-3,-7500],[-5,-8000],[-7,-8000],[-8,-6800],[-7,-4000],[-4,-1500],[-1,2000],[3,5000],[7,7000],[10,8000],[13,7500],[15,7000],[16.5,8000],[14,5500],[11,2500],[8,-500],[5,-3000],[2,-5000],[-2,-7000],[-5,-8000],[-8,-8300],[-8.5,-6000],[-8,-2000],[-6,500],[-3,2800],[0,4500],[3,5800],[7,7500],[10,8200],[14,7800],[17,7600],[22,7700],[27,7800],[30,7500],[33,6200],[36,7000],[40,8500],[44,9800],[48,9200],[52,9400],[55,8800],[57,8000],[57.4,6500],[57,5000],[55,3500],[52,2500],[48,1500],[45,200],[42,-800],[39,-1500],[36,-2000],[33,-2500],[30,-3000],[27,-3500],[24,-4000],[20,-4200],[16,-4400],[12,-4400],[8,-4300],[4,-4100],[0,-4000],[-4,-4500],[-8,-5000],[-12,-5500],[-16,-6000],[-20,-6500],[-24,-7000],[-28,-7300],[-32,-7000],[-36,-6200],[-40,-5000],[-42,-3500],[-44,-1800],[-44.4,-400],[-43,-200],[-40.7,-200],[-38,-600],[-35,-900],[-30,-600],[-26,0],[-22,1500],[-18,3200],[-15,4500],[-12,6000],[-9,7200],[-6,8000],[-3,8500],[-1.7,8600],[2.1,8400],[5,8200],[8.4,8200],[12.2,7400],[17,7500],[22.2,7800],[27.2,8000],[31,6100],[35,7500],[38.6,8200],[41,9000],[43.6,9600],[46,9500],[48.6,9000],[52,8700],[57.4,8000],[60,7000],[62.4,5500],[62,3500],[60,2000],[57,500],[54,-600],[50,-1700],[46,-2400],[42,-2800],[38,-2500],[34,-2200],[30,-1800],[26,-1500],[22,-1300],[18,-1200],[14,-1200],[10,-1000],[6,-300],[3,500],[0,1500],[-3,3000],[-6,4500],[-8,5500],[-10,6000],[-13,8500],[-14.3,9800],[-16,7000],[-18,4000],[-20,1000],[-22,-1000],[-25,-2500],[-28,-4000],[-30,-5000],[-34,-6500],[-38,-8000],[-41,-9000],[-43,-10500],[-44,-12000],[-45,-13000],[-47,-14000],[-52,-14800],[-57,-12500],[-60.8,-10200],[-63.9,-8800],[-66.8,-10400],[-68.3,-8800],[-69.6,-9200],[-70.2,-5100],[-69,-3000],[-68.3,-2000],[-66,-500],[-64.5,800],[-62,2500],[-59.5,3900],[-56,4500],[-54.5,4700],[-50,5200],[-45.7,5700],[-43,5500],[-40.7,5100],[-38,4800],[-35.6,4500],[-33,5000],[-30.6,5900],[-28,7000],[-25.6,8200],[-23,8800],[-20.6,9400],[-18,10500],[-16.8,12100],[-15,15000],[-13,18000],[-10.5,18600],[-8.5,17800],[-6.7,16400],[-5,15200],[-3.6,14600],[-0.4,14700],[2,15500],[4.6,15900],[7,15700],[9.6,15900],[12,16600],[15.9,17200],[18,17000],[20.9,16800],[24,16400],[27.2,16200],[30,16200],[33.5,16400],[36,16300],[39.8,16000],[43,15500],[46.1,14900],[49,13800],[52.4,12500],[55,11400],[58.7,10200],[61,9200],[63.7,7800],[65,7200],[66.8,7400],[67.4,5500],[66.2,3900],[64.9,4500],[63,3200],[61.1,2000],[58,1200],[54.9,400],[52,-700],[48,-1700],[44,-2700],[40,-3000],[36,-3300],[33.5,-3500],[29,-4200],[24.7,-4500],[20,-4600],[14.7,-4700],[11,-5000],[8.4,-5500],[4,-6500],[-0.4,-7200],[-4,-8400],[-8,-9800],[-12,-11000],[-15.5,-11900],[-19,-13000],[-23.1,-13700],[-25,-14300],[-27.5,-14900],[-29,-14000],[-30.6,-13300],[-33,-13000],[-35.6,-12900],[-38,-13700],[-40.7,-14400],[-43,-14000],[-45,-12000],[-46,-9000],[-46.5,-5700],[-45.7,-5700],[-45,-3000],[-44.4,-400],[-43,-100],[-40,-200],[-36,-500],[-32,1000],[-28,2000],[-24,2500],[-20,1500],[-16,500],[-13,-1000],[-10,-2500],[-12,-5500],[-16,-6500],[-20,-7000],[-24,-6500],[-28,-6300],[-30,-5500],[-29,-3500],[-26,-1000],[-25.5,-500]
];
const SM3Y_NUM: Pt[] = [
  [0,0],[1,2500],[2,5000],[1.5,2000],[0.5,-1500],[-0.5,-4000],[-1,-6000],[-0.5,-3000],[0.5,500],[1.5,3500],[2.5,6000],[3,4500],[2.5,1000],[2,-2500],[1.5,-5500],[1,-7000],[2,-4000],[3,-500],[4,3000],[5,6500],[5.5,7500],[6,4000],[5.5,500],[5,-3000],[4.5,-5500],[4,-6800],[5,-4000],[6,-500],[7,3000],[8,6000],[8.5,7800],[9,5000],[8.5,1500],[8,-2000],[7.5,-5000],[7,-6500],[8,-4000],[9,-1000],[10,2500],[11,5500],[11.5,6500],[12,3500],[11.5,0],[11,-3000],[10.5,-5500],[10,-6000],[11,-3500],[12,-500],[13,2500],[14,4000],[13.5,1000],[13,-2000],[12,-4000],[10,-6500],[8,-5500],[6,-6500],[4,-5000],[2,-6000],[0,-4500],[-1.5,-5500],[-2,-3500],[-1,-500],[0,2500],[1,5500],[1.5,7000],[2.5,5500],[3.5,3000],[4.5,6000],[5.5,7200],[6.5,5000],[7.5,3000],[8.5,5500],[9.5,6800],[10.5,4500],[11.5,2000],[12.5,3500],[13,1000],[12,-1500],[11,-2500],[10,-1000],[9,1000],[8,-500],[7,-3000],[6,-1500],[5,500],[4,-1000],[3,-3000],[2,-1500],[0,-3000],[-2,-5000],[-3,-6000],[-5,-7000],[-8,-8000],[-12,-9000],[-16.8,-11000],[-20,-11800],[-23.1,-12100],[-26,-12500],[-29.3,-12700],[-32,-12500],[-35.6,-12300],[-38,-11800],[-40.7,-11400],[-43,-10800],[-45.7,-10200],[-49,-9500],[-52,-8600],[-55,-7500],[-58.3,-6300],[-60,-4500],[-60.1,-3500],[-60.2,0],[-60.1,2000],[-58,4000],[-57,5900],[-55,5500],[-52,4900],[-49,5500],[-45.7,6100],[-41.9,7200],[-38,7300],[-35.6,7400],[-33.1,8000],[-32,6500],[-30.6,5700],[-28,7500],[-25.6,9400],[-23,10500],[-21.8,11300],[-19.3,11300],[-17,10500],[-15.5,9800],[-13,9000],[-10.5,8600],[-8,9800],[-6,10300],[-4.2,10600],[-1.1,10600],[0.8,9800],[3,9200],[5.9,8800],[9,9000],[12.2,9200],[15,9000],[17.2,8800],[20,8300],[22.2,8000],[25,7900],[28.5,7800],[31,7500],[34.7,7000],[37,6800],[39.8,7000],[41,6500],[43.6,5900],[47,5500],[50,5400],[52.4,5300],[55,5000],[57.4,4300],[59,3200],[60.5,2300],[59.5,1500],[58.6,1200],[57,200],[54.9,-800],[52,-500],[50,-1500],[48.6,-3300],[46,-2000],[44.9,-1200],[43,-1500],[40,-2000],[38,-500],[36,1000],[34,0],[33.5,800],[32.8,-1600],[33,1000],[33.2,3500],[32.3,5100],[33,4000],[35,4500],[37,5500],[38,6200],[38.5,4500],[37.5,2500],[37,0],[36.5,-2500],[35,-4000],[33.5,-5100],[31,-7400],[28,-8000],[25,-8400],[22.2,-8600],[19,-9300],[15,-10000],[12.2,-10200],[9,-9500],[5.9,-9000],[3,-8200],[0,-7000],[-3,-8000],[-6,-9000],[-9,-9500],[-12,-10500],[-15,-11300],[-16,-12000],[-15,-10500],[-13,-9000],[-10,-8000],[-8,-7000],[-10,-6500],[-14,-6000],[-18,-5000],[-22,-4500],[-26,-4800],[-30,-5000],[-34,-4500],[-37,-3500],[-38.5,-2500],[-39,0],[-38.5,2000],[-37.5,3000],[-36,2500],[-35,4000],[-33,3000],[-32,4500],[-30,5500],[-28,5600],[-26,5000],[-24,5600],[-22,5200],[-20,5500],[-18,4500],[-16,5000],[-14,4000],[-12,3500],[-10,4000],[-8,5000],[-6,5500],[-4,5000],[-2,4000],[0,3000],[4,2500],[8,2000],[12,1500],[16,1500],[20,2500],[22,3000],[24.7,3500],[24.6,1000],[24.3,-2000],[24.1,-4700],[22,-4500],[20,-3500],[17,-3000],[14,-2500],[11,-2000],[8,-1500],[5,-500],[2,500]
];
const SM3Y_NUM_CORE: Pt[] = [
  [3,-6500],[3.5,-2000],[4,4000],[4.3,7000],[4.8,2000],[5.3,-4000],[5.8,-6500],[6.2,-1500],[6.8,4500],[7.2,7500],[7.8,2000],[8.3,-4500],[8.8,-6000],[9.3,-1000],[9.8,5000],[10.3,7000],[10.8,1500],[11.3,-4000],[11.8,-5500],[12.3,-500],[12.8,4500],[13.3,2000],[13.8,-2500],[13,-5000],[12,-2000],[11,3000],[10,6000],[9,2500],[8,-2500],[7,-5500],[6,-2500],[5,3000],[4,6500],[3,3000],[2,-1500],[1,-5000],[0,-6500],[-1,-3000],[-1.5,1500],[-0.5,4000],[0.5,1000],[1.5,-3000],[2.5,-5000]
];

const SM4X_REC: Pt[] = [
  [0,0],[1,2000],[2,4000],[1.5,2000],[0.5,-500],[-0.5,-3000],[-1.5,-5000],[-1,-3000],[0,-500],[1,2500],[2.5,5000],[3.5,6500],[3,4000],[2,1000],[0.5,-2000],[-1,-4500],[-2.5,-6500],[-3.5,-7000],[-2.5,-4500],[-1,-1500],[0.5,2000],[2,5000],[3.5,7000],[4.5,7500],[5,5500],[4.5,3000],[3,0],[1.5,-2500],[0,-4500],[-1.5,-6500],[-3,-7200],[-5,-7000],[-6,-6000],[-5.5,-3500],[-4,-1000],[-2,2000],[0,5000],[2,7000],[4,8000],[5.5,8000],[7,7500],[7.5,6000],[7,3500],[6,1000],[4.5,-1500],[3,-3500],[1,-5500],[-1,-7000],[-3,-7300],[-6,-7000],[-8,-7200],[-9.5,-7400],[-11,-7200],[-12,-7600],[-11.5,-5500],[-10,-3500],[-8,-1500],[-6,500],[-4,2500],[-2,4500],[0,6500],[2.2,7900],[5.3,8000],[7.2,7600],[7.8,5400],[8.5,2500],[8,500],[7,-1000],[5,-2500],[3,-4000],[1,-5500],[-1,-6500],[-3.5,-7000],[-6,-6500],[-8,-6000],[-9,-6800],[-10.5,-6300],[-12.9,-5400],[-14.1,-5000],[-16.6,-5100],[-16.6,-6000],[-17.3,-8700],[-16.8,-7000],[-15.5,-6800],[-14.5,-6200],[-13.5,-4000],[-12,-1800],[-10,500],[-7.5,3000],[-5,5000],[-3,6500],[-1,7800],[1,8500],[3,10000],[4.7,11500],[5.7,11800],[6.9,11300],[8,9500],[9.5,8500],[11.5,7600],[13.5,6800],[15,6400],[16.5,5600],[16.6,6500],[16,7500],[14.5,9000],[12.5,10200],[11.9,9800],[14.8,8400],[16.6,6700],[14,4500],[12,2500],[10,500],[8,-1000],[6,-2500],[4,-4000],[2,-5500],[0,-7000],[-2,-8500],[-4.7,-9700],[-7.8,-10100],[-10.4,-11700],[-12.2,-13000],[-15.4,-12400],[-19.2,-11500],[-20.4,-10000],[-20.1,-7700],[-18.5,-4900],[-16,-2900],[-13.5,-1200],[-10.4,800],[-7.2,3700],[-4.1,5900],[-0.3,7900],[2.2,9400],[4.7,11500],[5.7,11800],[6.9,11300],[8.5,12000],[9.7,11900],[12.2,10900],[14.8,10600],[17.3,11000],[18.5,10500],[19.8,10300],[20.3,8800],[20.3,7100],[19.5,5100],[18.5,5700],[17.3,3400],[16.6,1100],[14.8,500],[12.2,-700],[9.7,-1400],[7.2,-2900],[4.1,-5400],[0.9,-7100],[-1.6,-8500],[-4.7,-9700],[-7,-9800],[-9,-8800],[-11,-7000],[-10,-4000],[-8,-2000],[-6,0],[-4,2000],[-2,4000],[0,5500],[2,6000],[3,4000],[2,1000],[0.5,-1500]
];
const SM4X_REC_CORE: Pt[] = [
  [-2,-3500],[-4,-6000],[-6,-7500],[-8,-8000],[-9,-7500],[-8,-5000],[-6.5,-2500],[-5,0],[-3,2500],[-1,5000],[1,6800],[3,7800],[5,8000],[6.5,7500],[7.5,6500],[8.5,7500],[9,6500],[8.5,4000],[8,1500],[6.5,-1000],[4.5,-3000],[2.5,-5000],[0,-6800],[-2,-7500],[-4,-7800],[-6,-7200],[-7,-5500],[-6,-3000],[-4.5,-500],[-3,2000],[-1,4000],[1,5500],[3,6500],[4.5,6500],[5,4500],[4,2000],[2.5,-500],[1,-3000],[-1,-5000],[-3,-5500],[-4,-4000],[-3,-1500],[-1.5,1000],[0,3500],[1.5,5000],[2.5,4000],[2,1500]
];
const SM4X_NUM: Pt[] = [
  [0,0],[0.6,2500],[1.2,5000],[0.8,2500],[0,-1000],[-0.8,-3500],[-1.5,-5500],[-1,-3000],[0,500],[1,3500],[2,6000],[2.5,7000],[2,4000],[1,1000],[0,-2500],[-1,-5000],[-2,-6500],[-1.5,-4000],[-0.5,-1000],[0.5,2000],[1.5,5000],[2.8,6800],[3.5,7200],[3,4500],[2,1500],[0.8,-1500],[-0.5,-4500],[-1.8,-6500],[-2.8,-7000],[-2,-4500],[-1,-2000],[0,1000],[1.2,4000],[2.5,6500],[4,7300],[4.5,5500],[4,2500],[3,-500],[1.5,-3500],[0,-6000],[-1.5,-7500],[-3,-7800],[-4,-6500],[-3.5,-4000],[-2.5,-1500],[-1,1500],[0.5,4500],[2,6800],[3.5,7500],[5.5,7300],[6.5,6500],[6,4000],[5,1500],[3.5,-1500],[2,-4000],[0.5,-6000],[-1,-7500],[-2.5,-7800],[-4,-7000],[-5,-5500],[-4.5,-3000],[-3,-1000],[-1.5,1500],[0,4500],[1.5,6500],[3,7000],[4.5,8500],[5.5,9500],[6.6,10500],[7,9000],[7.5,7000],[7.8,4000],[7.8,1000],[7.5,-1200],[6.5,-2500],[5,-3500],[3,-5000],[1,-6500],[-1,-7500],[-3,-7800],[-5.3,-8500],[-6,-10000],[-7.2,-10700],[-9.1,-10300],[-11.6,-10400],[-13.5,-11400],[-14.8,-11800],[-15.1,-8800],[-15.1,-5400],[-14.1,-3500],[-12.9,-2000],[-10.4,300],[-7.8,800],[-6,2000],[-3.5,2800],[-0.9,4500],[1,6000],[3,7000],[5,8500],[7,9500],[8.8,10200],[9.4,8200],[9.1,5400],[8.5,2500],[7.8,-300],[7.5,-1200],[6,-1500],[4.5,-2500],[3,-4000],[1.5,-5500],[0,-6500],[-1.5,-7500],[-3,-8000],[-1.5,-6000],[0,-3500],[1,-1000],[2,1500],[3,4000],[4,6000],[5,7500],[5.5,6000],[5,3500],[4,1000],[2.5,-2000],[1,-4500],[-0.5,-6500],[-2,-7000],[-1,-4000],[0,-1500],[1,1500],[1.8,3500]
];
const SM4X_NUM_CORE: Pt[] = [
  [2.2,5500],[1.6,2000],[0.8,-2200],[0,-5200],[-0.8,-7000],[-0.2,-3500],[0.6,0],[1.4,3500],[2.2,6500],[3,7800],[2.6,4500],[1.8,800],[1,-3000],[0.2,-6200],[-0.6,-7600],[-1.4,-5000],[-2.2,-6800],[-3,-7400],[-3.6,-5200],[-2.8,-2000],[-2,1000],[-1.2,3800],[-0.4,6000],[0.4,7400],[1.2,5000],[2,2000],[2.8,-1200],[3.6,-4200],[4.2,-1500],[4.8,1800],[5.2,4800],[4.6,7000],[3.8,4200],[3,1000],[2.2,-2500],[1.4,-5800],[0.6,-7800],[-0.2,-5000],[-1,-2200],[-1.8,1500],[-2.6,-1000],[-3.4,-3800],[-4.2,-6000],[-4.8,-7200],[-4,-4500],[-3,-1500],[-2,2000],[-1,4800],[0,6800],[1,7800],[2,6000],[3,3500],[4,500],[5,-2500],[5.5,500],[6,3500],[5.5,6000],[4.5,7500],[3.5,5000],[2.5,2000],[1.5,-1500],[0.5,-4500],[-0.5,-6500],[-1.5,-3500],[-2.5,-500],[-1.5,2500],[-0.5,5000],[0.5,6000]
];

const SM4Y_REC: Pt[] = [
  [0,0],[2,1500],[4,2500],[3,800],[0.5,-1500],[-2,-3000],[-4,-3500],[-2.5,-1500],[0,500],[3,2500],[6,3500],[8,3000],[6.5,1000],[4,-1500],[1,-3500],[-2,-4500],[-5,-5000],[-7,-4500],[-5,-2000],[-2,500],[2,3000],[5,4500],[9,5500],[12,5000],[14,3500],[12,1000],[9,-1500],[6,-3500],[3,-5000],[0,-5500],[-3,-6000],[-6,-5500],[-9,-4500],[-11,-3000],[-10,-1000],[-7,1500],[-4,3500],[0,5000],[4,6000],[8,6500],[12,6000],[15,5500],[18,4500],[20,3500],[18,1500],[15,-500],[12,-2000],[8,-3500],[4,-5000],[0,-6000],[-4,-6500],[-8,-6000],[-12,-4800],[-15,-4000],[-18,-5000],[-19.2,-5600],[-22,-6200],[-24,-6500],[-26.9,-6600],[-30,-5500],[-32.7,-4600],[-34,-2500],[-34.2,-500],[-33.8,2000],[-33.6,4000],[-32.5,3000],[-30,2500],[-26,3500],[-23,5600],[-20,6500],[-17.3,7400],[-13,7400],[-9.5,7100],[-6,5500],[-3.8,3500],[-1,2000],[2,2500],[5,3000],[8,3500],[12,4000],[16,3500],[20,3200],[24,2500],[27,2000],[29,3000],[30.5,2500],[31,0],[30,-1500],[27,-2000],[24,-2500],[20,-3000],[16,-3500],[12,-4500],[8,-5500],[4,-6300],[0,-6500],[-4,-5500],[-8,-4000],[-12,-3500],[-16,-3000],[-20,-3500],[-24,-4500],[-26,-4000],[-24,-2000],[-20,0],[-16,1500],[-12,2500],[-8,3500],[-4,4500],[0,5500],[4,6500],[8,7500],[12,8000],[16,8300],[20,8800],[23.2,9100],[25,8800],[27,7600],[29,5500],[30.5,4000],[31,2500],[30.9,-500],[29,-2000],[26,-2500],[23,-2800],[19.4,-3500],[16,-4000],[12,-4300],[8,-4500],[4,-4000],[0,-3000],[-4,-2500],[-8,-2000],[-10,-1000],[-8,500],[-5,1500],[-2,2000],[1,1500],[3,0],[1,-1500],[-1,-1000]
];
const SM4Y_REC_CORE: Pt[] = [
  [-2,-2500],[-6,-3500],[-10,-4200],[-14,-4800],[-17,-5500],[-15,-3500],[-12,-1500],[-9,500],[-6,2000],[-3,3200],[0,4200],[4,4800],[8,5000],[12,4500],[16,4000],[20,3800],[24,3200],[26,1500],[25,-500],[22,-2000],[18,-2500],[14,-3000],[10,-3800],[6,-4500],[2,-5000],[-2,-5200],[-6,-4800],[-9,-3500],[-11,-2000],[-9,0],[-6,1200],[-2,2800],[2,3800],[6,4200],[10,3800],[13,2800],[15,1000],[13,-1000],[10,-2500],[6,-3500],[2,-4200],[-2,-4000],[-5,-3000],[-3,-1500],[0,0],[3,1500],[6,2500],[8,2000],[6,500],[3,-1000],[0,-2000]
];
const SM4Y_NUM: Pt[] = [
  [0,0],[0.5,2500],[1,4500],[0.5,2000],[-0.5,-1000],[-1.5,-3500],[-2,-5000],[-1,-2500],[0,500],[1,3500],[2,5500],[1.5,3000],[0.5,0],[-0.5,-3000],[-1.5,-5500],[-2.5,-6500],[-1.5,-4000],[-0.5,-1000],[1,2500],[2.5,5000],[3.5,6500],[3,4000],[2,1000],[0.5,-2500],[-1,-5000],[-2.5,-6800],[-3.5,-6000],[-2.5,-3500],[-1,0],[0.5,3000],[2,5500],[4,7000],[5,6000],[4.5,3500],[3.5,500],[2,-2500],[0.5,-5000],[-1,-7000],[-3,-7200],[-5,-6500],[-6,-4500],[-5,-2000],[-3.5,500],[-2,3000],[0,5500],[2,7000],[4,7500],[6,7500],[7.5,8600],[8,6500],[8.5,4000],[8,1500],[7,-1000],[5.5,-3500],[4,-5500],[2,-7000],[0,-7500],[-2,-7000],[-4,-6000],[-6,-5000],[-8,-4500],[-9.5,-3500],[-10,-1500],[-9.5,500],[-8,2000],[-6,3500],[-4,4500],[-2,5500],[0,6500],[2,7000],[4,6500],[6,6000],[8,5500],[10,5000],[12,4800],[14,4500],[16,4000],[18,3500],[20,3000],[22,2500],[23.5,1500],[24,0],[23.5,-1000],[22,-1500],[20,-1200],[18,-2000],[15,-3000],[12,-4000],[10,-4500],[8,-5500],[6,-6500],[4,-7000],[2,-6000],[0,-5000],[-2,-4000],[-3,-2000],[-2,0],[0,2000],[2,3500],[4,4500],[6,5500],[8,5000],[10,4000],[12,2500],[11,0],[9,-2000],[7,-3500],[5,-4000],[3,-3000],[1,-1500]
];
const SM4Y_NUM_CORE: Pt[] = [
  [-1,-2500],[-0.3,1500],[0.6,5000],[1.2,7800],[1.8,4200],[2.3,600],[2.8,-3000],[3.4,-5800],[4,-2500],[4.6,1200],[5.2,4800],[5.8,7200],[6.4,4000],[7,500],[7.6,-2500],[8.2,-5200],[8.8,-2000],[9.4,1500],[10,4500],[10.6,6200],[11,3000],[11.4,-800],[10.8,-3500],[10,-5800],[9,-3800],[8,-6500],[7,-4500],[6,-7200],[5,-5000],[4,-6500],[3,-4200],[2,-6800],[1,-4500],[0,-6200],[-1,-4000],[-2,-6000],[-3,-3800],[-4,-5200],[-5,-2800],[-6,-4200],[-7,-1800],[-7.5,500],[-6.5,3000],[-5.5,5200],[-4.5,3200],[-3.5,6000],[-2.5,3800],[-1.5,6800],[-0.5,4200],[0.5,7000],[1.5,4800],[2.5,7200],[3.5,5000],[4.5,6800],[5.5,4500],[6.5,6200],[7.5,3800],[8.5,5500],[9.5,3000],[10.5,4800],[11.5,2200],[12,-500],[11,-2500],[10,-800],[9,-3200],[8,-1200],[7,-3800],[6,-1800],[5,-4200],[4,-2200],[3,-4800],[2,-2600],[1,-5000],[0,-2800],[-1,-5200],[-2,-2800],[-3,-4800],[-4,-2200],[-5,-4000],[-6,-1500],[-5,1500],[-4,-500],[-3,2500],[-2,500],[-1,3500],[0,1200],[1,3800],[2,1500],[3,4200],[4,1800],[5,4000],[6,1200],[7,3500],[8,800],[9,2800],[10,500]
];

// ---------- styling ----------
const FONT = '"Liberation Serif", "Times New Roman", serif';
const TICK_COLOR = "#262626";
const GRID_COLOR = "#e2e2e2";
const ZERO_COLOR = "#a6a6a6";
const CW = 607;
const CH = 466;

type Panel = {
  title: string;
  rec: Pt[];
  num: Pt[];
  xTicks: number[];
  yTicks: number[];
  col: number;
  row: number;
  ksec?: boolean;
};

const PANELS: Panel[] = [
  { title: "Global Hysteretic Response SM1 dir.X", rec: SM1X_REC, num: [...SM1X_NUM, ...SM1X_NUM_CORE], xTicks: X_TICKS_40, yTicks: Y_TICKS_20000, col: 0, row: 0, ksec: true },
  { title: "Global Hysteretic Response SM1 dir.Y", rec: [...SM1Y_REC, ...SM1Y_REC_CORE], num: SM1Y_NUM, xTicks: X_TICKS_40, yTicks: Y_TICKS_20000, col: 1, row: 0 },
  { title: "Global Hysteretic Response SM2 dir.X", rec: SM2X_REC, num: SM2X_NUM, xTicks: X_TICKS_20, yTicks: Y_TICKS_16000, col: 0, row: 1 },
  { title: "Global Hysteretic Response SM2 dir.Y", rec: [...SM2Y_REC, ...SM2Y_REC_CORE], num: [...SM2Y_NUM, ...SM2Y_NUM_CORE], xTicks: X_TICKS_20, yTicks: Y_TICKS_16000, col: 1, row: 1 },
  { title: "Global Hysteretic Response SM3 dir.X", rec: [...SM3X_REC, ...SM3X_REC_CORE], num: [...SM3X_NUM, ...SM3X_NUM_CORE], xTicks: X_TICKS_80, yTicks: Y_TICKS_22000, col: 0, row: 2 },
  { title: "Global Hysteretic Response SM3 dir.Y", rec: SM3Y_REC, num: [...SM3Y_NUM, ...SM3Y_NUM_CORE], xTicks: X_TICKS_80, yTicks: Y_TICKS_22000, col: 1, row: 2 },
  { title: "Global Hysteretic Response SM4 dir.X", rec: [...SM4X_REC, ...SM4X_REC_CORE], num: [...SM4X_NUM, ...SM4X_NUM_CORE], xTicks: X_TICKS_40, yTicks: Y_TICKS_16000, col: 0, row: 3 },
  { title: "Global Hysteretic Response SM4 dir.Y", rec: [...SM4Y_REC, ...SM4Y_REC_CORE], num: [...SM4Y_NUM, ...SM4Y_NUM_CORE], xTicks: X_TICKS_40, yTicks: Y_TICKS_16000, col: 1, row: 3 },
];

const toXY = (a: Pt[]) => a.map(([x, y]) => ({ x, y }));

function makeFramePlugin(p: Panel, legendInset: number) {
  return {
    id: "matlabFrame",
    beforeDatasetsDraw(chart: any) {
      const { ctx, chartArea: ca, scales } = chart;
      const x0 = Math.round(scales.x.getPixelForValue(0)) + 0.5;
      const y0 = Math.round(scales.y.getPixelForValue(0)) + 0.5;
      ctx.save();
      ctx.strokeStyle = ZERO_COLOR;
      ctx.lineWidth = 1.5;
      ctx.beginPath();
      ctx.moveTo(x0, ca.top);
      ctx.lineTo(x0, ca.bottom);
      ctx.moveTo(ca.left, y0);
      ctx.lineTo(ca.right, y0);
      ctx.stroke();
      ctx.restore();
    },
    afterDatasetsDraw(chart: any) {
      const { ctx, chartArea: ca, scales } = chart;
      const L = Math.round(ca.left) + 0.5;
      const R = Math.round(ca.right) - 0.5;
      const T = Math.round(ca.top) + 0.5;
      const B = Math.round(ca.bottom) - 0.5;
      ctx.save();
      ctx.lineWidth = 1;
      ctx.strokeStyle = "#8c8c8c";
      ctx.beginPath();
      ctx.moveTo(L, T);
      ctx.lineTo(R, T);
      ctx.stroke();
      ctx.strokeStyle = TICK_COLOR;
      ctx.beginPath();
      ctx.moveTo(R, T);
      ctx.lineTo(R, B);
      ctx.lineTo(L, B);
      ctx.lineTo(L, T);
      ctx.stroke();
      const tl = 5;
      ctx.beginPath();
      p.xTicks.forEach((v) => {
        const px = Math.round(scales.x.getPixelForValue(v)) + 0.5;
        ctx.moveTo(px, B);
        ctx.lineTo(px, B - tl);
        ctx.moveTo(px, T);
        ctx.lineTo(px, T + tl);
      });
      p.yTicks.forEach((v) => {
        const py = Math.round(scales.y.getPixelForValue(v)) + 0.5;
        ctx.moveTo(L, py);
        ctx.lineTo(L + tl, py);
        ctx.moveTo(R, py);
        ctx.lineTo(R - tl, py);
      });
      ctx.stroke();

      if (p.ksec) {
        const kx = scales.x.getPixelForValue(9.4);
        const ky = scales.y.getPixelForValue(9050);
        ctx.translate(kx, ky);
        ctx.rotate((-40 * Math.PI) / 180);
        ctx.fillStyle = "#000";
        ctx.textBaseline = "middle";
        ctx.textAlign = "center";
        ctx.font = `20px ${FONT}`;
        ctx.fillText("K", 0, 0);
        ctx.textAlign = "left";
        ctx.font = `15px ${FONT}`;
        ctx.fillText("sec", 10, 9);
        ctx.setTransform(1, 0, 0, 1, 0, 0);
      }

      const bw = 151, bh = 47;
      const bx = Math.round(ca.right - legendInset - bw);
      const by = Math.round(ca.bottom - 19 - bh);
      ctx.fillStyle = "#fff";
      ctx.fillRect(bx, by, bw, bh);
      ctx.strokeStyle = "#262626";
      ctx.lineWidth = 1;
      ctx.strokeRect(bx + 0.5, by + 0.5, bw, bh);
      const rows = [by + 12.5, by + 34];
      const colors = ["#000000", "#ff0000"];
      ctx.font = `17px ${FONT}`;
      ctx.textAlign = "left";
      ctx.textBaseline = "middle";
      rows.forEach((ry, i) => {
        ctx.strokeStyle = colors[i];
        ctx.lineWidth = 1.5;
        ctx.beginPath();
        ctx.moveTo(bx + 6, ry);
        ctx.lineTo(bx + 63, ry);
        ctx.stroke();
        ctx.fillStyle = "#000";
        ctx.fillText(LEGEND_LABELS[i], bx + 72, ry + 1);
      });
      ctx.restore();
    },
  };
}

function PanelChart({ p }: { p: Panel }) {
  const ref = useRef<HTMLCanvasElement>(null);
  useEffect(() => {
    if (!ref.current) return;
    const leftW = p.col === 0 ? 88 : 96;
    const rightPad = p.col === 0 ? 25 : 19;
    const yTitlePad = p.col === 0 ? 8.9 : 15.9;
    const legendInset = p.col === 0 ? 20 : 18;
    const datasets: any[] = [
      {
        label: LEGEND_LABELS[0],
        data: toXY(p.rec),
        borderColor: "#000000",
        borderWidth: 1.3,
        showLine: true,
        pointRadius: 0,
        pointHoverRadius: 0,
        tension: 0.3,
        order: 2,
        borderJoinStyle: "round",
      },
      {
        label: LEGEND_LABELS[1],
        data: toXY(p.num),
        borderColor: "#ff0000",
        borderWidth: 1.3,
        showLine: true,
        pointRadius: 0,
        pointHoverRadius: 0,
        tension: 0.15,
        order: 1,
        borderJoinStyle: "round",
      },
    ];
    if (p.ksec) {
      datasets.push({
        label: "Ksec",
        data: toXY(KSEC_LINE),
        borderColor: "#000000",
        borderWidth: 1.3,
        borderDash: [9, 6],
        showLine: true,
        pointRadius: 0,
        order: 0,
      });
    }
    const xt = p.xTicks;
    const yt = p.yTicks;
    const chart = new Chart(ref.current, {
      type: "scatter",
      data: { datasets },
      options: {
        animation: false,
        responsive: false,
        devicePixelRatio: 1,
        events: [],
        layout: { padding: { left: 0, right: rightPad, top: 0, bottom: 0 } },
        plugins: {
          legend: { display: false },
          tooltip: { enabled: false },
          title: {
            display: true,
            text: p.title,
            fullSize: false,
            color: "#000",
            font: { family: FONT, size: 21.5, weight: "bold", style: "italic", lineHeight: 1.2 },
            padding: { top: 4.5, bottom: 1.7 },
          },
        },
        scales: {
          x: {
            type: "linear",
            min: xt[0],
            max: xt[xt.length - 1],
            afterBuildTicks: (s: any) => {
              s.ticks = xt.map((v) => ({ value: v }));
            },
            afterFit: (s: any) => {
              s.height = 58;
            },
            grid: { color: GRID_COLOR, lineWidth: 1, drawTicks: false },
            border: { display: false },
            ticks: {
              color: TICK_COLOR,
              font: { family: FONT, size: 15 },
              padding: 8.4,
              maxRotation: 0,
              autoSkip: false,
              callback: (v: any) => String(v),
            },
            title: {
              display: true,
              text: X_LABEL,
              color: TICK_COLOR,
              font: { family: FONT, size: 18.5, lineHeight: 1.2 },
              padding: { top: 0, bottom: 5.9 },
            },
          },
          y: {
            type: "linear",
            min: yt[0],
            max: yt[yt.length - 1],
            afterBuildTicks: (s: any) => {
              s.ticks = yt.map((v) => ({ value: v }));
            },
            afterFit: (s: any) => {
              s.width = leftW;
            },
            grid: { color: GRID_COLOR, lineWidth: 1, drawTicks: false },
            border: { display: false },
            ticks: {
              color: TICK_COLOR,
              font: { family: FONT, size: 15 },
              padding: 7.5,
              autoSkip: false,
              callback: (v: any) => String(v),
            },
            title: {
              display: true,
              text: Y_LABEL,
              color: TICK_COLOR,
              font: { family: FONT, size: 18.5, lineHeight: 1.2 },
              padding: { top: yTitlePad, bottom: 0 },
            },
          },
        },
      },
      plugins: [makeFramePlugin(p, legendInset)],
    } as any);
    return () => chart.destroy();
  }, [p]);
  return (
    <canvas
      ref={ref}
      width={CW}
      height={CH}
      style={{ position: "absolute", left: p.col * CW, top: p.row * CH, width: CW, height: CH }}
    />
  );
}

export default function App() {
  return (
    <div style={{ position: "absolute", left: 0, top: 0, width: 1214, height: 1861, background: "#fff" }}>
      {PANELS.map((p, i) => (
        <PanelChart key={i} p={p} />
      ))}
    </div>
  );
}
